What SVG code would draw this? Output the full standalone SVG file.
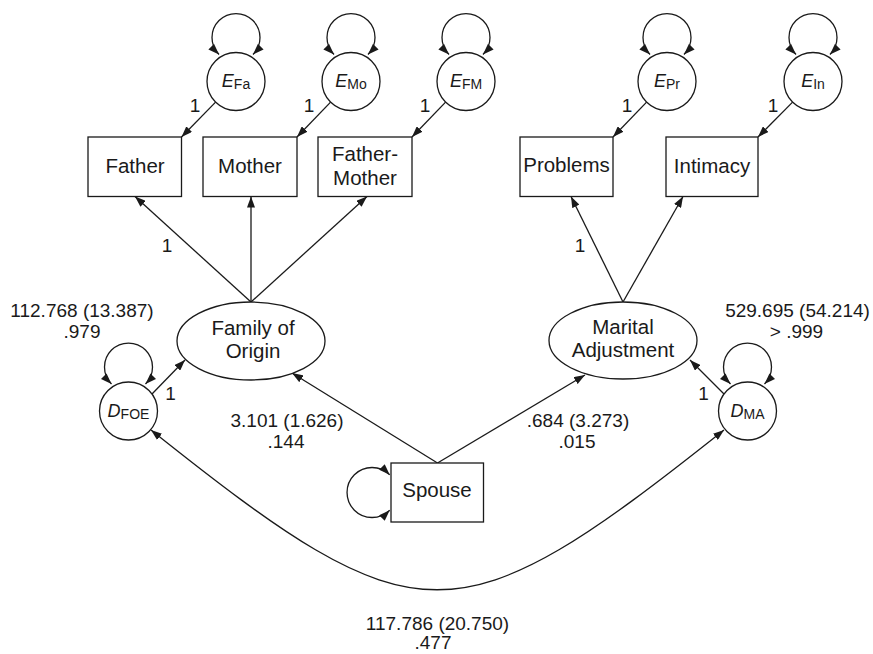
<svg xmlns="http://www.w3.org/2000/svg" width="873" height="654" viewBox="0 0 873 654">
  <style>
    .shape { fill: #ffffff; stroke: #1a1a1a; stroke-width: 1.3; }
    .conn { fill: none; stroke: #1a1a1a; stroke-width: 1.3; }
    .arrow { marker-end: url(#ah); }
    .both { marker-start: url(#ah); marker-end: url(#ah); }
    text { font-family: "Liberation Sans", Arial, Helvetica, sans-serif; fill: #1a1a1a; text-anchor: middle; }
    .lbl { font-size: 20.5px; }
    .num { font-size: 19px; }
    .sym { font-size: 18px; }
    .sym .v { font-style: italic; }
    .sym .s { font-size: 14px; }
  </style>
  <defs>
    <marker id="ah" viewBox="0 0 11 8" refX="11" refY="4" markerWidth="11" markerHeight="8" markerUnits="userSpaceOnUse" orient="auto-start-reverse">
      <path d="M0,0 L11,4 L0,8 z" fill="#1a1a1a"/>
    </marker>
  </defs>

  <!-- connectors -->
  <g id="connectors">
    <!-- error terms to indicators -->
    <line class="conn arrow" x1="215.6" y1="102.1" x2="181.5" y2="137"/>
    <line class="conn arrow" x1="330.6" y1="102.1" x2="297" y2="137"/>
    <line class="conn arrow" x1="445.6" y1="102.1" x2="412" y2="137"/>
    <line class="conn arrow" x1="646.6" y1="102.1" x2="613" y2="137"/>
    <line class="conn arrow" x1="792.6" y1="102.1" x2="758" y2="137"/>
    <!-- variance loops on error terms -->
    <path class="conn both" d="M219,54.5 A24,24 0 1 1 253,54.5"/>
    <path class="conn both" d="M334,54.5 A24,24 0 1 1 368,54.5"/>
    <path class="conn both" d="M449,54.5 A24,24 0 1 1 483,54.5"/>
    <path class="conn both" d="M650,54.5 A24,24 0 1 1 684,54.5"/>
    <path class="conn both" d="M796,54.5 A24,24 0 1 1 830,54.5"/>
    <!-- factor loadings -->
    <line class="conn arrow" x1="251" y1="302" x2="135" y2="196.5"/>
    <line class="conn arrow" x1="251" y1="302" x2="251" y2="196.5"/>
    <line class="conn arrow" x1="251" y1="302" x2="367" y2="196.5"/>
    <line class="conn arrow" x1="623" y1="302" x2="571" y2="196.5"/>
    <line class="conn arrow" x1="623" y1="302" x2="683" y2="196.5"/>
    <!-- disturbances -->
    <line class="conn arrow" x1="151.5" y1="394.5" x2="185" y2="360"/>
    <line class="conn arrow" x1="724.5" y1="394.5" x2="690" y2="360"/>
    <path class="conn both" d="M111.5,384 A24,24 0 1 1 145.5,384"/>
    <path class="conn both" d="M730.5,384 A24,24 0 1 1 764.5,384"/>
    <!-- structural paths -->
    <line class="conn arrow" x1="437.5" y1="463" x2="292" y2="373"/>
    <line class="conn arrow" x1="437.5" y1="463" x2="585" y2="375"/>
    <path class="conn both" d="M389.7,474.8 A25,25 0 1 0 389.7,510.2"/>
    <!-- disturbance covariance -->
    <path class="conn both" d="M151,430 C418,643 456,643 724,430"/>
  </g>

  <!-- error terms -->
  <g id="E_Fa">
    <circle class="shape" cx="236" cy="81.5" r="29"/>
    <text class="sym" x="236" y="87"><tspan class="v">E</tspan><tspan class="s" dy="2">Fa</tspan></text>
  </g>
  <g id="E_Mo">
    <circle class="shape" cx="351" cy="81.5" r="29"/>
    <text class="sym" x="351" y="87"><tspan class="v">E</tspan><tspan class="s" dy="2">Mo</tspan></text>
  </g>
  <g id="E_FM">
    <circle class="shape" cx="466" cy="81.5" r="29"/>
    <text class="sym" x="466" y="87"><tspan class="v">E</tspan><tspan class="s" dy="2">FM</tspan></text>
  </g>
  <g id="E_Pr">
    <circle class="shape" cx="667" cy="81.5" r="29"/>
    <text class="sym" x="667" y="87"><tspan class="v">E</tspan><tspan class="s" dy="2">Pr</tspan></text>
  </g>
  <g id="E_In">
    <circle class="shape" cx="813" cy="81.5" r="29"/>
    <text class="sym" x="813" y="87"><tspan class="v">E</tspan><tspan class="s" dy="2">In</tspan></text>
  </g>

  <!-- observed indicators -->
  <g id="Father">
    <rect class="shape" x="88" y="137" width="93.5" height="59.5"/>
    <text class="lbl" x="135" y="173">Father</text>
  </g>
  <g id="Mother">
    <rect class="shape" x="203" y="137" width="94" height="59.5"/>
    <text class="lbl" x="250" y="173">Mother</text>
  </g>
  <g id="FatherMother">
    <rect class="shape" x="318" y="137" width="94" height="59.5"/>
    <text class="lbl" x="365" y="161">Father-</text>
    <text class="lbl" x="365" y="185">Mother</text>
  </g>
  <g id="Problems">
    <rect class="shape" x="520" y="137" width="93" height="59.5"/>
    <text class="lbl" x="566.5" y="172">Problems</text>
  </g>
  <g id="Intimacy">
    <rect class="shape" x="666" y="137" width="92" height="59.5"/>
    <text class="lbl" x="712" y="173">Intimacy</text>
  </g>

  <!-- latent factors -->
  <g id="FamilyOfOrigin">
    <ellipse class="shape" cx="251" cy="341" rx="74" ry="39"/>
    <text class="lbl" x="253" y="335">Family of</text>
    <text class="lbl" x="253" y="358">Origin</text>
  </g>
  <g id="MaritalAdjustment">
    <ellipse class="shape" cx="623" cy="340.5" rx="74" ry="38.5"/>
    <text class="lbl" x="623" y="334">Marital</text>
    <text class="lbl" x="623" y="357">Adjustment</text>
  </g>

  <!-- disturbances -->
  <g id="D_FOE">
    <circle class="shape" cx="128.5" cy="411" r="29"/>
    <text class="sym" x="128.5" y="417"><tspan class="v">D</tspan><tspan class="s" dy="2">FOE</tspan></text>
  </g>
  <g id="D_MA">
    <circle class="shape" cx="747.5" cy="411" r="29"/>
    <text class="sym" x="747.5" y="417"><tspan class="v">D</tspan><tspan class="s" dy="2">MA</tspan></text>
  </g>

  <!-- exogenous predictor -->
  <g id="Spouse">
    <rect class="shape" x="391" y="463" width="92.5" height="59"/>
    <text class="lbl" x="437" y="497">Spouse</text>
  </g>

  <!-- fixed loadings -->
  <g id="fixed-ones">
    <text class="num" x="195" y="112">1</text>
    <text class="num" x="309" y="112">1</text>
    <text class="num" x="425" y="112">1</text>
    <text class="num" x="627" y="112">1</text>
    <text class="num" x="773" y="112">1</text>
    <text class="num" x="167" y="252">1</text>
    <text class="num" x="580" y="252">1</text>
    <text class="num" x="170.5" y="400">1</text>
    <text class="num" x="703.5" y="400">1</text>
  </g>

  <!-- estimates -->
  <g id="estimates">
    <text class="num" x="82" y="317">112.768 (13.387)</text>
    <text class="num" x="82" y="338">.979</text>
    <text class="num" x="287" y="427">3.101 (1.626)</text>
    <text class="num" x="286" y="448">.144</text>
    <text class="num" x="578" y="427">.684 (3.273)</text>
    <text class="num" x="577" y="448">.015</text>
    <text class="num" x="797.5" y="317">529.695 (54.214)</text>
    <text class="num" x="796.5" y="338">&gt; .999</text>
    <text class="num" x="437.5" y="630">117.786 (20.750)</text>
    <text class="num" x="433" y="649">.477</text>
  </g>
</svg>
